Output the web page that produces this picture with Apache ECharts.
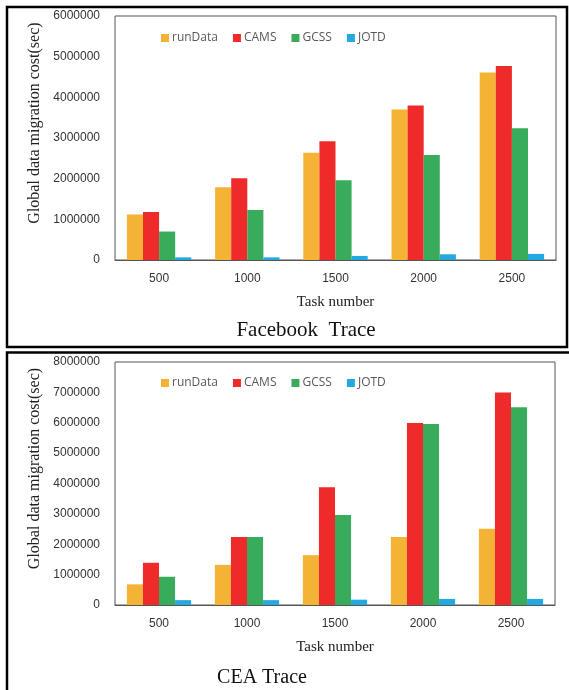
<!DOCTYPE html>
<html>
<head>
<meta charset="utf-8">
<script src="https://cdn.jsdelivr.net/npm/echarts@6/dist/echarts.min.js"></script>
<style>
  html, body { margin: 0; padding: 0; background: #fff; }
  #chart { width: 569px; height: 690px; }
</style>
</head>
<body>
<div id="chart"></div>
<script>
// Task counts on the x axis
const taskNumbers = ['500', '1000', '1500', '2000', '2500'];
const seriesNames = ['runData', 'CAMS', 'GCSS', 'JOTD'];

// Facebook trace: global data migration cost (sec)
const fbRunData = [1120000, 1790000, 2640000, 3700000, 4610000];
const fbCAMS    = [1180000, 2010000, 2920000, 3800000, 4770000];
const fbGCSS    = [700000, 1230000, 1960000, 2580000, 3240000];
const fbJOTD    = [65000, 65000, 100000, 140000, 150000];

// CEA trace: global data migration cost (sec)
const ceaRunData = [680000, 1320000, 1640000, 2240000, 2510000];
const ceaCAMS    = [1390000, 2240000, 3880000, 5990000, 7000000];
const ceaGCSS    = [930000, 2240000, 2960000, 5960000, 6510000];
const ceaJOTD    = [160000, 160000, 175000, 200000, 200000];

const palette = ['#F4B334', '#EE2A2A', '#39AC5B', '#23A8E0'];
const serif = '"Liberation Serif", "Times New Roman", serif';
const sans = '"Liberation Sans", Arial, sans-serif';

const chart = echarts.init(document.getElementById('chart'), null, { renderer: 'canvas' });

function makeSeries(gridIdx, values) {
  return values.map((data, i) => ({
    name: seriesNames[i],
    type: 'bar',
    xAxisIndex: gridIdx,
    yAxisIndex: gridIdx,
    data: data,
    barGap: '0%',
    barCategoryGap: '27%',
    itemStyle: { color: palette[i] },
    emphasis: { disabled: true }
  }));
}

function xAxisFor(gridIdx) {
  return {
    type: 'category',
    gridIndex: gridIdx,
    data: taskNumbers,
    axisTick: { show: false },
    axisLine: { lineStyle: { color: '#555', width: 1 } },
    axisLabel: { color: '#333', fontFamily: sans, fontSize: 12, margin: 13 },
    name: 'Task number',
    nameLocation: 'middle',
    nameGap: 35,
    nameTextStyle: { color: '#222', fontFamily: serif, fontSize: 15 }
  };
}

function yAxisFor(gridIdx, max) {
  return {
    type: 'value',
    gridIndex: gridIdx,
    min: 0,
    max: max,
    interval: 1000000,
    splitLine: { show: false },
    axisLine: { show: false },
    axisTick: { show: false },
    axisLabel: {
      color: '#333', fontFamily: sans, fontSize: 12, margin: 15,
      formatter: (v) => String(v)
    },
    name: 'Global data migration cost(sec)',
    nameLocation: 'middle',
    nameGap: 70,
    nameTextStyle: { color: '#222', fontFamily: serif, fontSize: 16, padding: [0, 0, 0, 30] }
  };
}

function legendFor(top) {
  return {
    top: top,
    left: 156,
    itemWidth: 8,
    itemHeight: 8,
    itemGap: 15,
    icon: 'rect',
    data: seriesNames,
    textStyle: { color: '#595959', fontFamily: '"Open Sans", sans-serif', fontSize: 12, padding: [0, 0, 0, -2] },
    selectedMode: false
  };
}

chart.setOption({
  animation: false,
  color: palette,
  title: [
    { text: 'Facebook  Trace', left: 301, top: 315, textAlign: 'center',
      textStyle: { fontFamily: serif, fontSize: 21, fontWeight: 'normal', color: '#111' } },
    { text: 'CEA Trace', left: 257, top: 663, textAlign: 'center',
      textStyle: { fontFamily: serif, fontSize: 20, fontWeight: 'normal', color: '#111' } }
  ],
  legend: [legendFor(27), legendFor(372)],
  grid: [
    { left: 115, top: 16, width: 441, height: 244, show: true, borderColor: '#555', borderWidth: 1, backgroundColor: 'transparent' },
    { left: 115, top: 362, width: 440, height: 243, show: true, borderColor: '#555', borderWidth: 1, backgroundColor: 'transparent' }
  ],
  xAxis: [xAxisFor(0), xAxisFor(1)],
  yAxis: [yAxisFor(0, 6000000), yAxisFor(1, 8000000)],
  series: [].concat(
    makeSeries(0, [fbRunData, fbCAMS, fbGCSS, fbJOTD]),
    makeSeries(1, [ceaRunData, ceaCAMS, ceaGCSS, ceaJOTD])
  ),
  graphic: [
    // frame around the Facebook panel
    { type: 'rect', shape: { x: 7, y: 7, width: 560, height: 340 },
      style: { fill: 'none', stroke: '#000', lineWidth: 2.5 }, silent: true },
    // frame lines of the CEA panel (top and left)
    { type: 'polyline', shape: { points: [[7, 692], [7, 352.5], [569, 352.5]] },
      style: { fill: 'none', stroke: '#000', lineWidth: 2.5 }, silent: true }
  ]
});
</script>
</body>
</html>
